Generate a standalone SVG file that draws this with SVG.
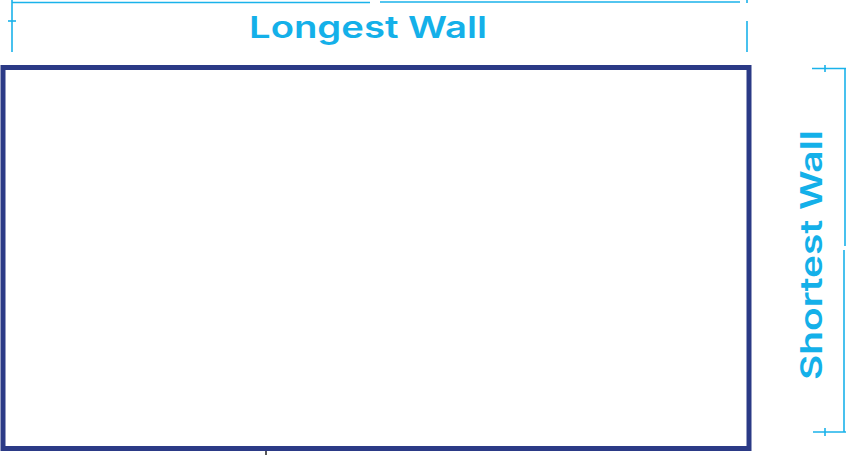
<svg xmlns="http://www.w3.org/2000/svg" width="848" height="455" viewBox="0 0 848 455">
<style>
.dim{stroke:#1ab2ea;stroke-width:1.6;fill:none}
.lbl{fill:#14b0e9;font-family:Inter,"Liberation Sans",sans-serif;font-weight:600;font-size:30px}
</style>
<rect width="848" height="455" fill="#fff"/>
<g id="room">
<rect x="3" y="67.5" width="746" height="381" fill="#fff" stroke="#2b3a86" stroke-width="5"/>
<line x1="266" y1="451" x2="266" y2="455" stroke="#222" stroke-width="1.5"/>
</g>
<g id="connectors">
<line class="dim" x1="12" y1="2.5" x2="370" y2="2.5"/>
<line class="dim" x1="380" y1="2" x2="740" y2="2"/>
<line class="dim" x1="12" y1="0" x2="12" y2="52"/>
<line class="dim" x1="8" y1="21" x2="16" y2="21"/>
<line class="dim" x1="747" y1="0" x2="747" y2="3"/>
<line class="dim" x1="747" y1="21" x2="747" y2="52"/>
<line class="dim" x1="812" y1="68.5" x2="846" y2="68.5"/>
<line class="dim" x1="825" y1="65" x2="825" y2="72"/>
<line class="dim" x1="845" y1="68" x2="845" y2="246"/>
<line class="dim" x1="844" y1="250" x2="844" y2="432"/>
<line class="dim" x1="813" y1="432" x2="846" y2="432"/>
<line class="dim" x1="825" y1="428" x2="825" y2="436"/>
</g>
<g id="label-longest">
<text class="lbl" x="368" y="38" text-anchor="middle" textLength="238" lengthAdjust="spacingAndGlyphs">Longest Wall</text>
</g>
<g id="label-shortest">
<text class="lbl" transform="translate(822 255) rotate(-90)" x="0" y="0" text-anchor="middle" textLength="250" lengthAdjust="spacingAndGlyphs">Shortest Wall</text>
</g>
</svg>
